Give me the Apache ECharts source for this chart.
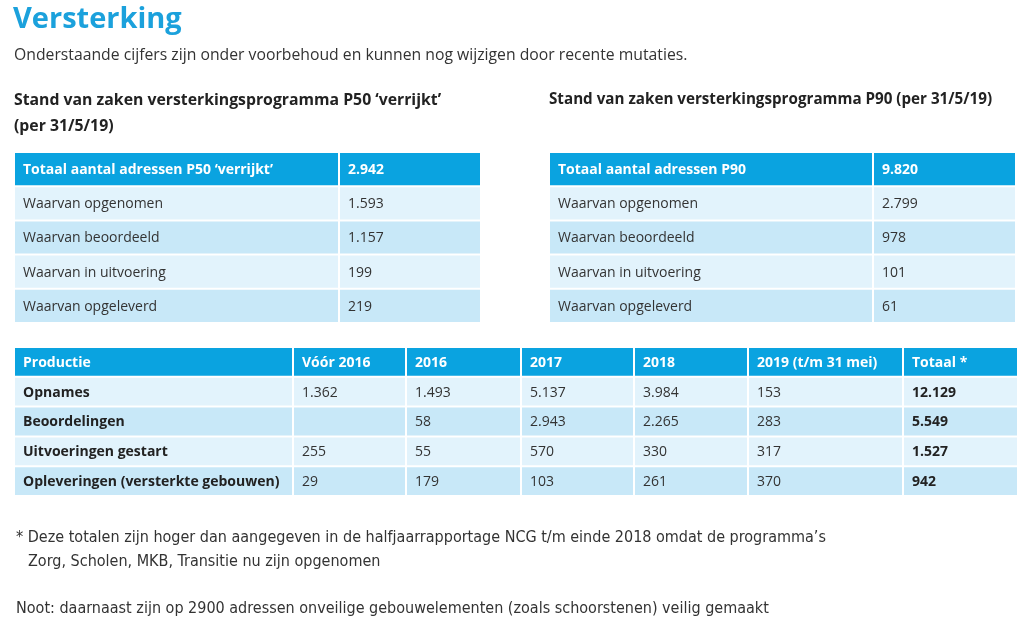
<!DOCTYPE html>
<html><head><meta charset="utf-8">
<script src="https://cdn.jsdelivr.net/npm/echarts@6/dist/echarts.min.js"></script>
<style>html,body{margin:0;padding:0;background:#fff}#c{width:1024px;height:626px}</style>
</head><body><div id="c"></div>
<script>
// ---- data ----
const p50Rows = ['Totaal aantal adressen P50 ‘verrijkt’', 'Waarvan opgenomen', 'Waarvan beoordeeld', 'Waarvan in uitvoering', 'Waarvan opgeleverd'];
const p50Values = [2942, 1593, 1157, 199, 219];
const p90Rows = ['Totaal aantal adressen P90', 'Waarvan opgenomen', 'Waarvan beoordeeld', 'Waarvan in uitvoering', 'Waarvan opgeleverd'];
const p90Values = [9820, 2799, 978, 101, 61];
const prodColumns = ['Productie', 'Vóór 2016', '2016', '2017', '2018', '2019 (t/m 31 mei)', 'Totaal *'];
const prodRows = ['Opnames', 'Beoordelingen', 'Uitvoeringen gestart', 'Opleveringen (versterkte gebouwen)'];
const voor2016 = [1362, null, 255, 29];
const y2016 = [1493, 58, 55, 179];
const y2017 = [5137, 2943, 570, 103];
const y2018 = [3984, 2265, 330, 261];
const y2019 = [153, 283, 317, 370];
const totaal = [12129, 5549, 1527, 942];

// ---- style / layout ----
const FONT = '"Open Sans", "Noto Sans", sans-serif';
const NARROW = '"Liberation Sans Narrow", "DejaVu Sans Condensed", sans-serif';
const BLUE = '#0aa3e0';
const LIGHT = '#e2f3fc';
const DARK = '#c8e8f8';
const TEXT = '#333333';
const fmt = n => n == null ? '' : String(n).replace(/\B(?=(\d{3})+(?!\d))/g, '.');

function buildCells(rowCount, colCount, getText, isBold) {
  const cells = [];
  for (let r = 0; r < rowCount; r++)
    for (let c = 0; c < colCount; c++)
      cells.push({ value: [c, r], text: getText(r, c), header: r === 0, bold: isBold(r, c) });
  return cells;
}

const t1Cells = buildCells(5, 2, (r, c) => c === 0 ? p50Rows[r] : fmt(p50Values[r]), (r) => r === 0);
const t2Cells = buildCells(5, 2, (r, c) => c === 0 ? p90Rows[r] : fmt(p90Values[r]), (r) => r === 0);
const prodSeries = [null, voor2016, y2016, y2017, y2018, y2019, totaal];
const t3Cells = buildCells(5, 7, (r, c) => r === 0 ? prodColumns[c] : (c === 0 ? prodRows[r - 1] : fmt(prodSeries[c][r - 1])),
  (r, c) => r === 0 || c === 0 || c === 6);

const tables = [
  { cells: t1Cells, rows: p50Rows, edges: [0, 325, 467], grid: { left: 14, top: 152, width: 467, height: 171 } },
  { cells: t2Cells, rows: p90Rows, edges: [0, 324, 467], grid: { left: 549, top: 152, width: 467, height: 171 } },
  { cells: t3Cells, rows: ['Productie'].concat(prodRows), edges: [0, 279, 392, 507, 620, 734, 889, 1004], grid: { left: 14, top: 347, width: 1004, height: 149 } }
];

const grids = [], xAxes = [], yAxes = [], series = [];
tables.forEach((t, i) => {
  grids.push(Object.assign({ show: false }, t.grid));
  xAxes.push({ type: 'value', gridIndex: i, min: 0, max: t.edges[t.edges.length - 1], show: false });
  yAxes.push({ type: 'category', gridIndex: i, data: t.rows, inverse: true, show: false });
  series.push({
    type: 'custom', xAxisIndex: i, yAxisIndex: i, clip: false, silent: true,
    data: t.cells,
    renderItem: function (params, api) {
      const cell = t.cells[params.dataIndex];
      const col = api.value(0), row = api.value(1);
      const e0 = t.edges[col], e1 = t.edges[col + 1];
      const p = api.coord([e0, row]);
      const w = api.size([e1 - e0, 0])[0];
      const h = api.size([0, 1])[1];
      const fill = cell.header ? BLUE : (row % 2 === 1 ? LIGHT : DARK);
      return {
        type: 'group',
        children: [
          { type: 'rect', shape: { x: p[0] + 1, y: p[1] - h / 2 + 1, width: w - 2, height: h - 2 }, style: { fill: fill } },
          { type: 'text', style: { text: cell.text, x: p[0] + 9, y: p[1] + 1, verticalAlign: 'middle', align: 'left',
            fill: cell.header ? '#ffffff' : (cell.bold ? '#222' : TEXT), fontSize: 14, fontFamily: FONT,
            fontWeight: cell.bold ? 'bold' : 'normal' } }
        ]
      };
    }
  });
});

const txt = (x, y, text, size, opts) => ({ type: 'text', left: x, top: y, style: Object.assign({ text: text, fontSize: size, fontFamily: FONT, fill: TEXT }, opts || {}) });

const chart = echarts.init(document.getElementById('c'), null, { renderer: 'canvas' });
chart.setOption({
  animation: false,
  backgroundColor: '#ffffff',
  grid: grids, xAxis: xAxes, yAxis: yAxes, series: series,
  graphic: [
    txt(13, 5, 'Versterking', 29, { fontWeight: 'bold', fill: '#1ba1dc' }),
    txt(14, 48, 'Onderstaande cijfers zijn onder voorbehoud en kunnen nog wijzigen door recente mutaties.', 15.75, { fill: '#333' }),
    txt(14, 92, 'Stand van zaken versterkingsprogramma P50 ‘verrijkt’', 15.8, { fontWeight: 'bold', fill: '#222' }),
    txt(14, 118, '(per 31/5/19)', 15.8, { fontWeight: 'bold', fill: '#222' }),
    txt(549, 92, 'Stand van zaken versterkingsprogramma P90 (per 31/5/19)', 15.2, { fontWeight: 'bold', fill: '#222' }),
    txt(16, 530, '* Deze totalen zijn hoger dan aangegeven in de halfjaarrapportage NCG t/m einde 2018 omdat de programma’s', 16, { fontFamily: NARROW, fill: '#333' }),
    txt(28, 554, 'Zorg, Scholen, MKB, Transitie nu zijn opgenomen', 16, { fontFamily: NARROW, fill: '#333' }),
    txt(16, 601, 'Noot: daarnaast zijn op 2900 adressen onveilige gebouwelementen (zoals schoorstenen) veilig gemaakt', 16, { fontFamily: NARROW, fill: '#333' })
  ]
});
</script>
</body></html>
